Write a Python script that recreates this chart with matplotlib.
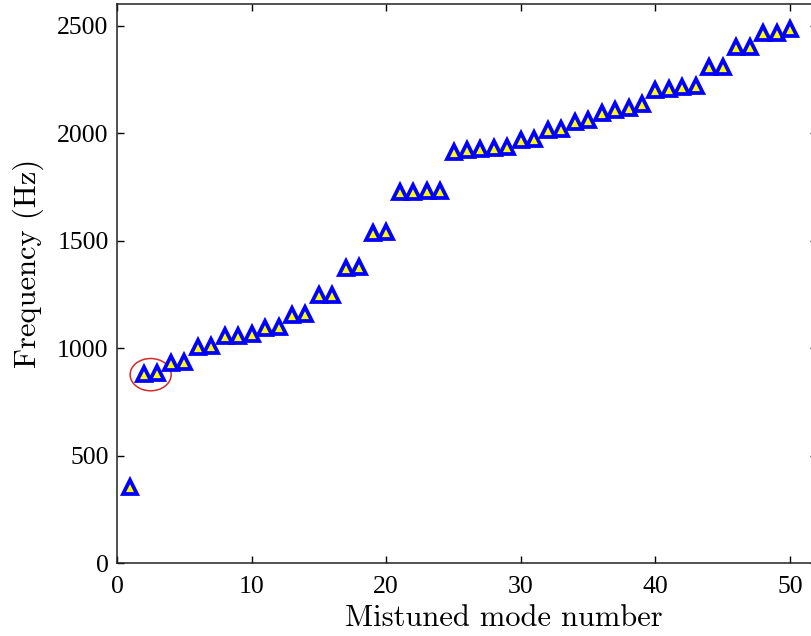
import numpy as np
import matplotlib
matplotlib.use("Agg")
import matplotlib.pyplot as plt
from matplotlib.patches import Ellipse

# mistuned mode numbers and their natural frequencies (Hz)
modes = [1, 2, 3, 4, 5, 6, 7, 8, 9, 10,
         11, 12, 13, 14, 15, 16, 17, 18, 19, 20,
         21, 22, 23, 24, 25, 26, 27, 28, 29, 30,
         31, 32, 33, 34, 35, 36, 37, 38, 39, 40,
         41, 42, 43, 44, 45, 46, 47, 48, 49, 50]
freqs = [357, 882, 884, 932, 937, 1007, 1010, 1056, 1058, 1064,
         1095, 1100, 1155, 1157, 1245, 1247, 1374, 1376, 1537, 1539,
         1724, 1728, 1730, 1730, 1914, 1922, 1926, 1930, 1935, 1966,
         1972, 2012, 2020, 2050, 2060, 2095, 2105, 2117, 2135, 2198,
         2207, 2213, 2221, 2305, 2307, 2400, 2402, 2463, 2465, 2486]

# highlighted pair (modes 2 and 3)
circle_center = (2.5, 877)
circle_size = (3.05, 150)

fig = plt.figure(figsize=(8.11, 6.36), dpi=100)
W, H = 811.0, 636.0
ax = fig.add_axes([117 / W, (H - 563.3) / H, 700 / W, 559.3 / H])

ax.plot(modes, freqs, linestyle='none', marker='^', markersize=10.5,
        markerfacecolor=(1, 1, 0), markeredgecolor=(0, 0, 1),
        markeredgewidth=2.7, clip_on=False)

ax.add_patch(Ellipse(circle_center, circle_size[0], circle_size[1],
                     fill=False, edgecolor='#d42a2a', linewidth=1.1))

ax.set_xlim(0, 52)
ax.set_ylim(0, 2600)
ax.set_xticks([0, 10, 20, 30, 40, 50])
ax.set_yticks([0, 500, 1000, 1500, 2000, 2500])

tick_font = 'Liberation Serif'
ax.tick_params(direction='in', length=5, width=1, top=True, right=True,
               labelsize=18.5, colors='black')
ax.tick_params(axis='x', pad=9)
ax.tick_params(axis='y', pad=6)
for lab in ax.get_xticklabels() + ax.get_yticklabels():
    lab.set_family(tick_font)

for sp in ax.spines.values():
    sp.set_linewidth(1.1)
    sp.set_color('#222222')

ax.set_xlabel('Mistuned mode number', family='cmr10', fontsize=22)
ax.set_ylabel('Frequency (Hz)', family='cmr10', fontsize=22)
ax.xaxis.set_label_coords(0.553, -0.073)
ax.yaxis.set_label_coords(-0.104, 0.537)

fig.savefig('out.png', dpi=100)
